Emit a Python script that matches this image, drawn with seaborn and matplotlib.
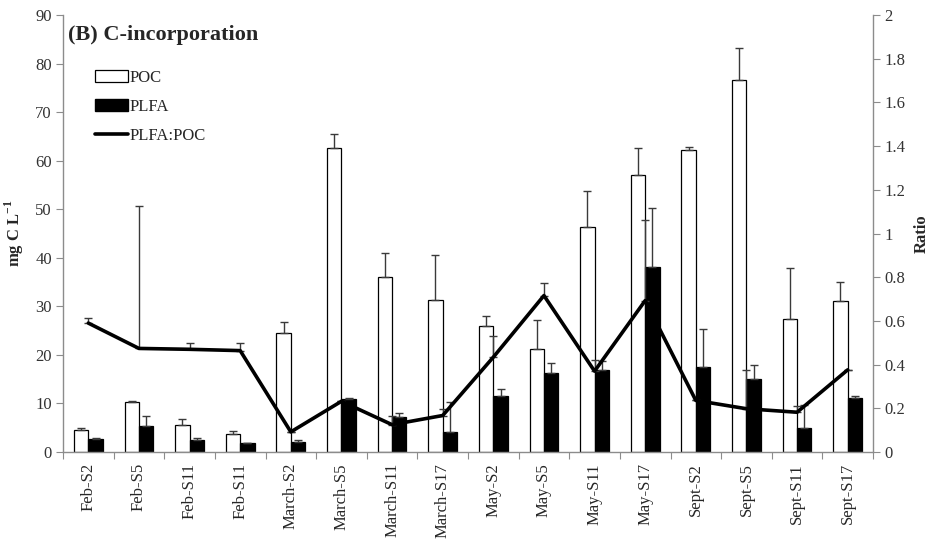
import numpy as np
import pandas as pd
import matplotlib
matplotlib.use("Agg")
import matplotlib.pyplot as plt
import seaborn as sns
from matplotlib.patches import Patch
from matplotlib.lines import Line2D
from matplotlib.ticker import FixedLocator, NullFormatter

# Sampling sites per campaign
categories = ["Feb-S2", "Feb-S5", "Feb-S11", "Feb-S11",
              "March-S2", "March-S5", "March-S11", "March-S17",
              "May-S2", "May-S5", "May-S11", "May-S17",
              "Sept-S2", "Sept-S5", "Sept-S11", "Sept-S17"]

# Carbon incorporation (mg C L-1) with upper standard errors
poc = [4.5, 10.4, 5.5, 3.8, 24.5, 62.6, 36.1, 31.4,
       26.0, 21.3, 46.4, 57.1, 62.1, 76.7, 27.3, 31.0]
poc_err = [0.5, 0.2, 1.3, 0.6, 2.2, 2.8, 4.8, 9.1,
           2.0, 5.8, 7.3, 5.6, 0.8, 6.5, 10.6, 4.1]
plfa = [2.7, 5.3, 2.5, 1.9, 2.1, 10.9, 7.3, 4.1,
        11.6, 16.3, 16.8, 38.1, 17.5, 15.1, 4.9, 11.2]
plfa_err = [0.2, 2.1, 0.4, 0.0, 0.4, 0.2, 0.8, 6.2,
            1.4, 2.1, 2.0, 12.1, 7.9, 2.9, 4.7, 0.3]

# PLFA:POC ratio with upper errors
ratio = [0.59, 0.474, 0.47, 0.464, 0.092, 0.232, 0.125, 0.167,
         0.434, 0.716, 0.37, 0.693, 0.236, 0.198, 0.182, 0.376]
ratio_err = [0.025, 0.65, 0.03, 0.034, 0.0, 0.0, 0.04, 0.03,
             0.096, 0.058, 0.05, 0.37, 0.0, 0.175, 0.03, 0.0]

sns.set_style("white")
plt.rcParams["font.family"] = ["Liberation Serif", "DejaVu Serif"]
plt.rcParams["mathtext.fontset"] = "custom"
plt.rcParams["mathtext.rm"] = "Liberation Serif"
plt.rcParams["mathtext.bf"] = "Liberation Serif:bold"

grey = "#8c8c8c"
tick_col = "#333333"

fig = plt.figure(figsize=(9.33, 5.45), dpi=100)
ax = fig.add_axes([63 / 933, 93 / 545, 810 / 933, 437 / 545])

n = len(categories)
pos = np.arange(n)
df = pd.DataFrame({
    "pos": np.concatenate([pos, pos]),
    "value": poc + plfa,
    "series": ["POC"] * n + ["PLFA"] * n,
})

sns.barplot(data=df, x="pos", y="value", hue="series",
            hue_order=["POC", "PLFA"],
            palette={"POC": "white", "PLFA": "black"},
            edgecolor="black", linewidth=0.9, width=0.57,
            saturation=1, errorbar=None, legend=False, ax=ax)

# Upper error bars centred on each bar
bars = ax.patches
poc_x = [b.get_x() + b.get_width() / 2 for b in bars[:n]]
plfa_x = [b.get_x() + b.get_width() / 2 for b in bars[n:2 * n]]
ax.errorbar(poc_x, poc, yerr=[np.zeros(n), poc_err], fmt="none",
            ecolor="#3a3a3a", elinewidth=1.0, capsize=3, capthick=1.0, zorder=3)
ax.errorbar(plfa_x, plfa, yerr=[np.zeros(n), plfa_err], fmt="none",
            ecolor="#3a3a3a", elinewidth=1.0, capsize=3, capthick=1.0, zorder=3)

ax.set_xlim(-0.5, n - 0.5)
ax.set_ylim(0, 90)
ax.set_yticks(np.arange(0, 91, 10))
ax.set_xlabel("")
ax.set_ylabel("mg C L$^{\\mathbf{-1}}$", fontsize=12, fontweight="bold", labelpad=7)

# Ticks between categories, labels at the centres
ax.xaxis.set_major_locator(FixedLocator(np.arange(-0.5, n, 1.0)))
ax.xaxis.set_major_formatter(NullFormatter())
ax.xaxis.set_minor_locator(FixedLocator(pos))
ax.set_xticklabels(categories, minor=True, rotation=90, fontsize=12)
ax.tick_params(axis="x", which="major", direction="out", length=5, color=grey, bottom=True)
ax.tick_params(axis="x", which="minor", length=0, pad=8, bottom=True)
ax.tick_params(axis="y", direction="out", length=5, color=grey, left=True,
               labelsize=12, labelcolor=tick_col, pad=3)

for side in ["top", "right"]:
    ax.spines[side].set_visible(False)
for side in ["left", "bottom"]:
    ax.spines[side].set_color(grey)
    ax.spines[side].set_linewidth(1.0)

# Ratio on the secondary axis
ax2 = ax.twinx()
ax2.errorbar(pos, ratio, yerr=[np.zeros(n), ratio_err], fmt="none",
             ecolor="#3a3a3a", elinewidth=1.0, capsize=3, capthick=1.0, zorder=2)
sns.lineplot(x=pos, y=ratio, color="black", linewidth=2.6, ax=ax2, zorder=3)
ax2.set_ylim(0, 2)
ax2.set_yticks(np.round(np.arange(0, 2.01, 0.2), 1))
ax2.set_yticklabels(["%g" % v for v in np.round(np.arange(0, 2.01, 0.2), 1)])
ax2.set_ylabel("Ratio", fontsize=12, fontweight="bold", labelpad=6)
ax2.tick_params(axis="y", direction="out", length=5, color=grey, right=True,
                labelsize=12, labelcolor=tick_col, pad=3)
for side in ["top", "left", "bottom"]:
    ax2.spines[side].set_visible(False)
ax2.spines["right"].set_color(grey)
ax2.spines["right"].set_linewidth(1.0)
ax2.set_xlim(-0.5, n - 0.5)

ax.text(0.006, 0.978, "(B) C-incorporation", transform=ax.transAxes,
        fontsize=16, fontweight="bold", va="top", ha="left")

handles = [Patch(facecolor="white", edgecolor="black", linewidth=0.9),
           Patch(facecolor="black", edgecolor="black"),
           Line2D([0], [0], color="black", linewidth=2.6)]
fig.legend(handles, ["POC", "PLFA", "PLFA:POC"], loc="upper left",
           bbox_to_anchor=(95 / 933, 1 - 70 / 545), frameon=False,
           fontsize=12, handlelength=2.0, handletextpad=0.05,
           labelspacing=0.78, borderpad=0, borderaxespad=0)

fig.savefig("out.png", dpi=100)
